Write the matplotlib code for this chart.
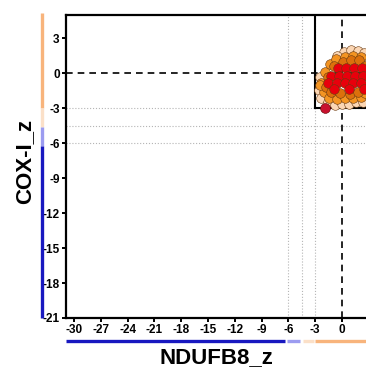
import numpy as np
import matplotlib
matplotlib.use("Agg")
import matplotlib.pyplot as plt

plt.rcParams['font.family'] = ['Liberation Sans', 'DejaVu Sans']

# tick values
x_ticks = [-30, -27, -24, -21, -18, -15, -12, -9, -6, -3, 0]
y_ticks = [3, 0, -3, -6, -9, -12, -15, -18, -21]

# cutoffs (grey dotted guides)
cutoffs = [-3, -4.5, -6]

# fibres, grouped by colour class
peach_x = [0.2, 1.0, 1.8, 2.5, -0.5, 2.6, -2.6, -2.3, -1.6, -0.8, 0.0, 0.8, 1.6, 2.4, -2.5]
peach_y = [1.8, 2.0, 1.9, 1.7, 1.5, 1.0, -1.4, -2.1, -2.5, -2.7, -2.6, -2.6, -2.5, -2.5, -0.3]

orange_x = [-2.3, -2.0, -1.4, -0.6, 0.3, 1.2, 2.1, -1.9, -1.3, -0.7, 0.3, 1.2, 2.1, 2.6, -2.5]
orange_y = [-0.8, -1.6, -2.1, -2.2, -2.1, -2.1, -2.0, 0.1, 0.8, 1.2, 1.4, 1.5, 1.4, -1.7, -1.0]

dark_x = [-1.8, -1.2, -0.2, 0.9, 1.8, -1.6, -0.9, 0.1, 1.0, 1.9, 2.6]
dark_y = [-1.2, -1.6, -1.7, -1.8, -1.6, -0.3, 0.6, 1.0, 1.1, 1.1, 0.6]

red_x = [-0.4, 0.5, 1.4, 2.3, -1.2, -0.3, 0.6, 1.5, 2.4, -1.5, -0.6, 0.3, 1.2, 2.1, -0.9, 0.8, 2.5]
red_y = [0.45, 0.45, 0.45, 0.45, -0.2, -0.2, -0.2, -0.2, -0.2, -0.85, -0.85, -0.85, -0.85, -0.85, -1.35, -1.35, -1.35]

outlier_x = [-1.9]
outlier_y = [-3.0]

fig = plt.figure(figsize=(3.66, 3.70), dpi=100)
ax = fig.add_axes([66 / 366, 52 / 370, 300 / 366, 303 / 370])
ax.set_xlim(-30.9, 2.7)
ax.set_ylim(-21, 5)

# grey dotted guides
for c in cutoffs:
    ax.axvline(c, color="#b5b5b5", ls=":", lw=0.8, zorder=1)
    ax.axhline(c, color="#b5b5b5", ls=":", lw=0.8, zorder=1)

# zero lines
ax.axhline(0, color="black", ls=(0, (4, 3)), lw=1.2, zorder=2)
ax.axvline(0, color="black", ls=(0, (4, 3)), lw=1.2, zorder=2)

# box for normal fibres
ax.plot([-3, -3], [5, -3], color="black", lw=1.5, zorder=2)
ax.plot([-3, 2.7], [-3, -3], color="black", lw=1.5, zorder=2)

# fibres
kw = dict(s=48, linewidths=0.4, edgecolors="#6a3a10", zorder=5)
ax.scatter(peach_x, peach_y, c="#fbd6b4", **kw)
ax.scatter(orange_x, orange_y, c="#f39422", **kw)
ax.scatter(dark_x, dark_y, c="#dc700c", **kw)
ax.scatter(red_x, red_y, c="#e8000c", **kw)
ax.scatter(outlier_x, outlier_y, c="#c8102e", s=50, linewidths=0.4, edgecolors="#600000", zorder=5)

# colour class bars outside the axes
ytr = ax.get_yaxis_transform()
xtr = ax.get_xaxis_transform()
bar_kw = dict(lw=2.4, solid_capstyle="butt", clip_on=False)
ax.plot([-0.08, -0.08], [5.2, -3], color="#f8b47c", transform=ytr, **bar_kw)
ax.plot([-0.08, -0.08], [-3, -4.6], color="#fbe0c8", transform=ytr, **bar_kw)
ax.plot([-0.08, -0.08], [-4.6, -6.2], color="#9c9cf0", transform=ytr, **bar_kw)
ax.plot([-0.08, -0.08], [-6.2, -21], color="#1818c0", transform=ytr, **bar_kw)
ax.plot([-30.9, -6.4], [-0.076, -0.076], color="#1818c0", transform=xtr, **bar_kw)
ax.plot([-6.2, -4.7], [-0.076, -0.076], color="#9c9cf0", transform=xtr, **bar_kw)
ax.plot([-4.4, -3.1], [-0.076, -0.076], color="#fbe0c8", transform=xtr, **bar_kw)
ax.plot([-3.0, 2.7], [-0.076, -0.076], color="#f8b47c", transform=xtr, **bar_kw)

ax.set_xticks(x_ticks)
ax.set_yticks(y_ticks)
ax.set_xticklabels([str(t) for t in x_ticks], fontsize=8.5, fontweight="bold")
ax.set_yticklabels([str(t) for t in y_ticks], fontsize=8.5, fontweight="bold")
ax.tick_params(direction="out", length=3, width=1.4, pad=1.5)

for s in ["left", "bottom", "top"]:
    ax.spines[s].set_linewidth(1.6)
ax.spines["right"].set_visible(False)

fig.text(25 / 366, 1 - 162 / 370, "COX-I_z", rotation=90, ha="center", va="center",
         fontsize=16, fontweight="bold")
fig.text(216 / 366, 1 - 358 / 370, "NDUFB8_z", ha="center", va="center",
         fontsize=16, fontweight="bold")

fig.savefig("out.png", dpi=100)
